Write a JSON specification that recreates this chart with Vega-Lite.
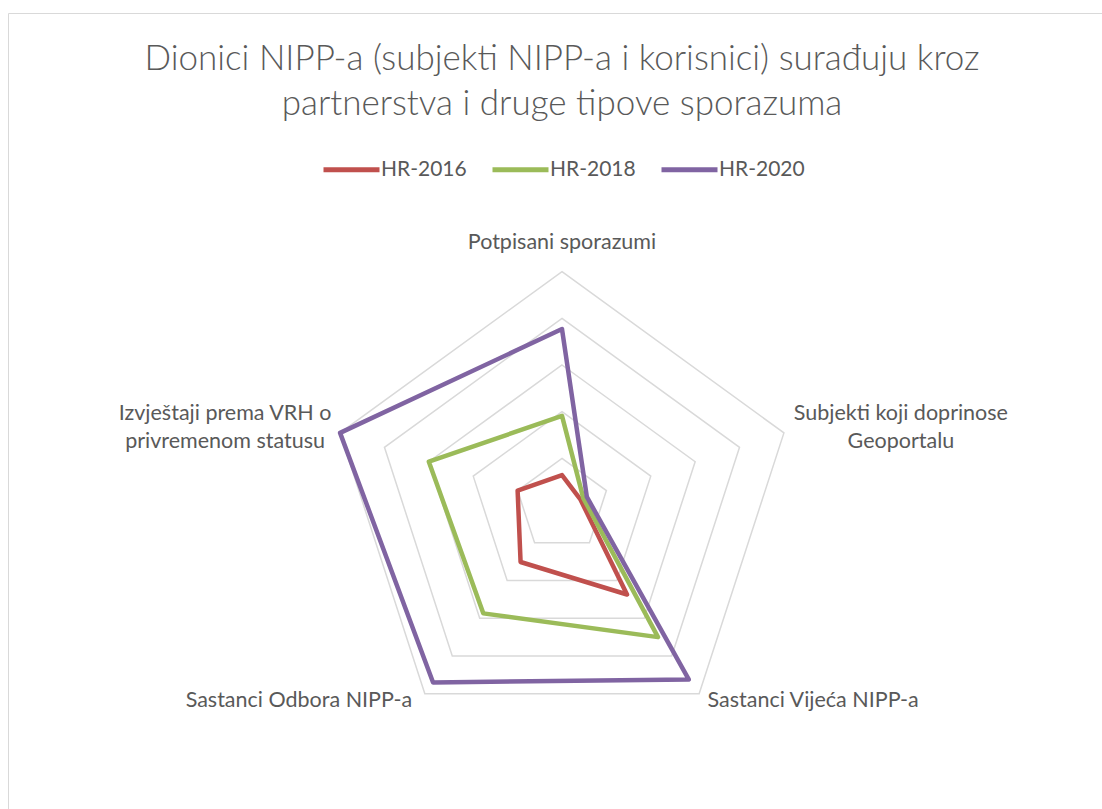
{
  "$schema": "https://vega.github.io/schema/vega-lite/v6.json",
  "autosize": "none",
  "padding": {"left": 8, "top": 13, "right": 0, "bottom": 0},
  "width": 1094,
  "height": 796,
  "background": "white",
  "config": {
    "view": {"stroke": "#d9d9d9", "strokeWidth": 1},
    "font": "Lato"
  },
  "title": {
    "text": ["Dionici NIPP-a (subjekti NIPP-a i korisnici) surađuju kroz", "partnerstva i druge tipove sporazuma"],
    "anchor": "middle",
    "dx": 7,
    "offset": -137,
    "baseline": "alphabetic",
    "fontSize": 35,
    "font": "Lato",
    "fontWeight": 300,
    "color": "#595959",
    "lineHeight": 45
  },
  "datasets": {
    "main": [
      {"series": "HR-2016", "axis": "Potpisani sporazumi", "k": 0, "value": 0.64},
      {"series": "HR-2016", "axis": "Subjekti koji doprinose\nGeoportalu", "k": 1, "value": 0.41},
      {"series": "HR-2016", "axis": "Sastanci Vijeća NIPP-a", "k": 2, "value": 2.37},
      {"series": "HR-2016", "axis": "Sastanci Odbora NIPP-a", "k": 3, "value": 1.51},
      {"series": "HR-2016", "axis": "Izvještaji prema VRH o\nprivremenom statusu", "k": 4, "value": 1.0},
      {"series": "HR-2018", "axis": "Potpisani sporazumi", "k": 0, "value": 1.91},
      {"series": "HR-2018", "axis": "Subjekti koji doprinose\nGeoportalu", "k": 1, "value": 0.48},
      {"series": "HR-2018", "axis": "Sastanci Vijeća NIPP-a", "k": 2, "value": 3.5},
      {"series": "HR-2018", "axis": "Sastanci Odbora NIPP-a", "k": 3, "value": 2.87},
      {"series": "HR-2018", "axis": "Izvještaji prema VRH o\nprivremenom statusu", "k": 4, "value": 3.0},
      {"series": "HR-2020", "axis": "Potpisani sporazumi", "k": 0, "value": 3.77},
      {"series": "HR-2020", "axis": "Subjekti koji doprinose\nGeoportalu", "k": 1, "value": 0.56},
      {"series": "HR-2020", "axis": "Sastanci Vijeća NIPP-a", "k": 2, "value": 4.62},
      {"series": "HR-2020", "axis": "Sastanci Odbora NIPP-a", "k": 3, "value": 4.7},
      {"series": "HR-2020", "axis": "Izvještaji prema VRH o\nprivremenom statusu", "k": 4, "value": 5.0}
    ],
    "grid": [
      {"ring": 1, "k": 0}, {"ring": 1, "k": 1}, {"ring": 1, "k": 2}, {"ring": 1, "k": 3}, {"ring": 1, "k": 4},
      {"ring": 2, "k": 0}, {"ring": 2, "k": 1}, {"ring": 2, "k": 2}, {"ring": 2, "k": 3}, {"ring": 2, "k": 4},
      {"ring": 3, "k": 0}, {"ring": 3, "k": 1}, {"ring": 3, "k": 2}, {"ring": 3, "k": 3}, {"ring": 3, "k": 4},
      {"ring": 4, "k": 0}, {"ring": 4, "k": 1}, {"ring": 4, "k": 2}, {"ring": 4, "k": 3}, {"ring": 4, "k": 4},
      {"ring": 5, "k": 0}, {"ring": 5, "k": 1}, {"ring": 5, "k": 2}, {"ring": 5, "k": 3}, {"ring": 5, "k": 4}
    ]
  },
  "layer": [
    {
      "data": {"name": "grid"},
      "transform": [
        {"calculate": "PI/2 - 2*PI*datum.k/5", "as": "ang"},
        {"calculate": "datum.ring*cos(datum.ang)", "as": "px"},
        {"calculate": "datum.ring*sin(datum.ang)", "as": "py"}
      ],
      "mark": {"type": "line", "interpolate": "linear-closed", "color": "#d9d9d9", "strokeWidth": 1.5},
      "encoding": {
        "x": {"field": "px", "type": "quantitative", "scale": {"domain": [-11.871, 11.571], "nice": false, "zero": false}, "axis": null},
        "y": {"field": "py", "type": "quantitative", "scale": {"domain": [-6.514, 10.542], "nice": false, "zero": false}, "axis": null},
        "detail": {"field": "ring", "type": "nominal"},
        "order": {"field": "k", "type": "quantitative"}
      }
    },
    {
      "data": {"name": "main"},
      "transform": [
        {"calculate": "PI/2 - 2*PI*datum.k/5", "as": "ang"},
        {"calculate": "datum.value*cos(datum.ang)", "as": "px"},
        {"calculate": "datum.value*sin(datum.ang)", "as": "py"}
      ],
      "mark": {"type": "line", "interpolate": "linear-closed", "strokeWidth": 4.5, "strokeJoin": "round", "strokeCap": "round"},
      "encoding": {
        "x": {"field": "px", "type": "quantitative"},
        "y": {"field": "py", "type": "quantitative"},
        "order": {"field": "k", "type": "quantitative"},
        "color": {
          "field": "series", "type": "nominal",
          "scale": {"domain": ["HR-2016", "HR-2018", "HR-2020"], "range": ["#C0504D", "#9BBB59", "#8064A2"]},
          "legend": {
            "title": null, "orient": "none", "legendX": 313, "legendY": 126, "direction": "horizontal",
            "symbolType": "stroke", "symbolSize": 3136, "symbolStrokeWidth": 5,
            "labelFontSize": 21, "labelFont": "Lato", "labelColor": "#595959", "labelOffset": -1, "columnPadding": 15
          }
        }
      }
    },
    {
      "data": {"name": "main"},
      "transform": [
        {"filter": "datum.series == 'HR-2016'"},
        {"calculate": "PI/2 - 2*PI*datum.k/5", "as": "ang"},
        {"calculate": "5*cos(datum.ang)", "as": "px"},
        {"calculate": "5*sin(datum.ang)", "as": "py"}
      ],
      "layer": [
        {"transform": [{"filter": "datum.k == 0"}], "mark": {"type": "text", "align": "center", "baseline": "alphabetic", "dx": 0, "dy": -22.5, "fontSize": 21.5, "font": "Lato", "color": "#595959", "lineBreak": "\n", "lineHeight": 28.5},
         "encoding": {"x": {"field": "px", "type": "quantitative"}, "y": {"field": "py", "type": "quantitative"}, "text": {"field": "axis"}}},
        {"transform": [{"filter": "datum.k == 1"}], "mark": {"type": "text", "align": "center", "baseline": "alphabetic", "dx": 117, "dy": -13, "fontSize": 21.5, "font": "Lato", "color": "#595959", "lineBreak": "\n", "lineHeight": 28.5},
         "encoding": {"x": {"field": "px", "type": "quantitative"}, "y": {"field": "py", "type": "quantitative"}, "text": {"field": "axis"}}},
        {"transform": [{"filter": "datum.k == 2"}], "mark": {"type": "text", "align": "center", "baseline": "alphabetic", "dx": 114, "dy": 13, "fontSize": 21.5, "font": "Lato", "color": "#595959", "lineBreak": "\n", "lineHeight": 28.5},
         "encoding": {"x": {"field": "px", "type": "quantitative"}, "y": {"field": "py", "type": "quantitative"}, "text": {"field": "axis"}}},
        {"transform": [{"filter": "datum.k == 3"}], "mark": {"type": "text", "align": "center", "baseline": "alphabetic", "dx": -126, "dy": 13, "fontSize": 21.5, "font": "Lato", "color": "#595959", "lineBreak": "\n", "lineHeight": 28.5},
         "encoding": {"x": {"field": "px", "type": "quantitative"}, "y": {"field": "py", "type": "quantitative"}, "text": {"field": "axis"}}},
        {"transform": [{"filter": "datum.k == 4"}], "mark": {"type": "text", "align": "center", "baseline": "alphabetic", "dx": -115, "dy": -13, "fontSize": 21.5, "font": "Lato", "color": "#595959", "lineBreak": "\n", "lineHeight": 28.5},
         "encoding": {"x": {"field": "px", "type": "quantitative"}, "y": {"field": "py", "type": "quantitative"}, "text": {"field": "axis"}}}
      ]
    }
  ]
}
